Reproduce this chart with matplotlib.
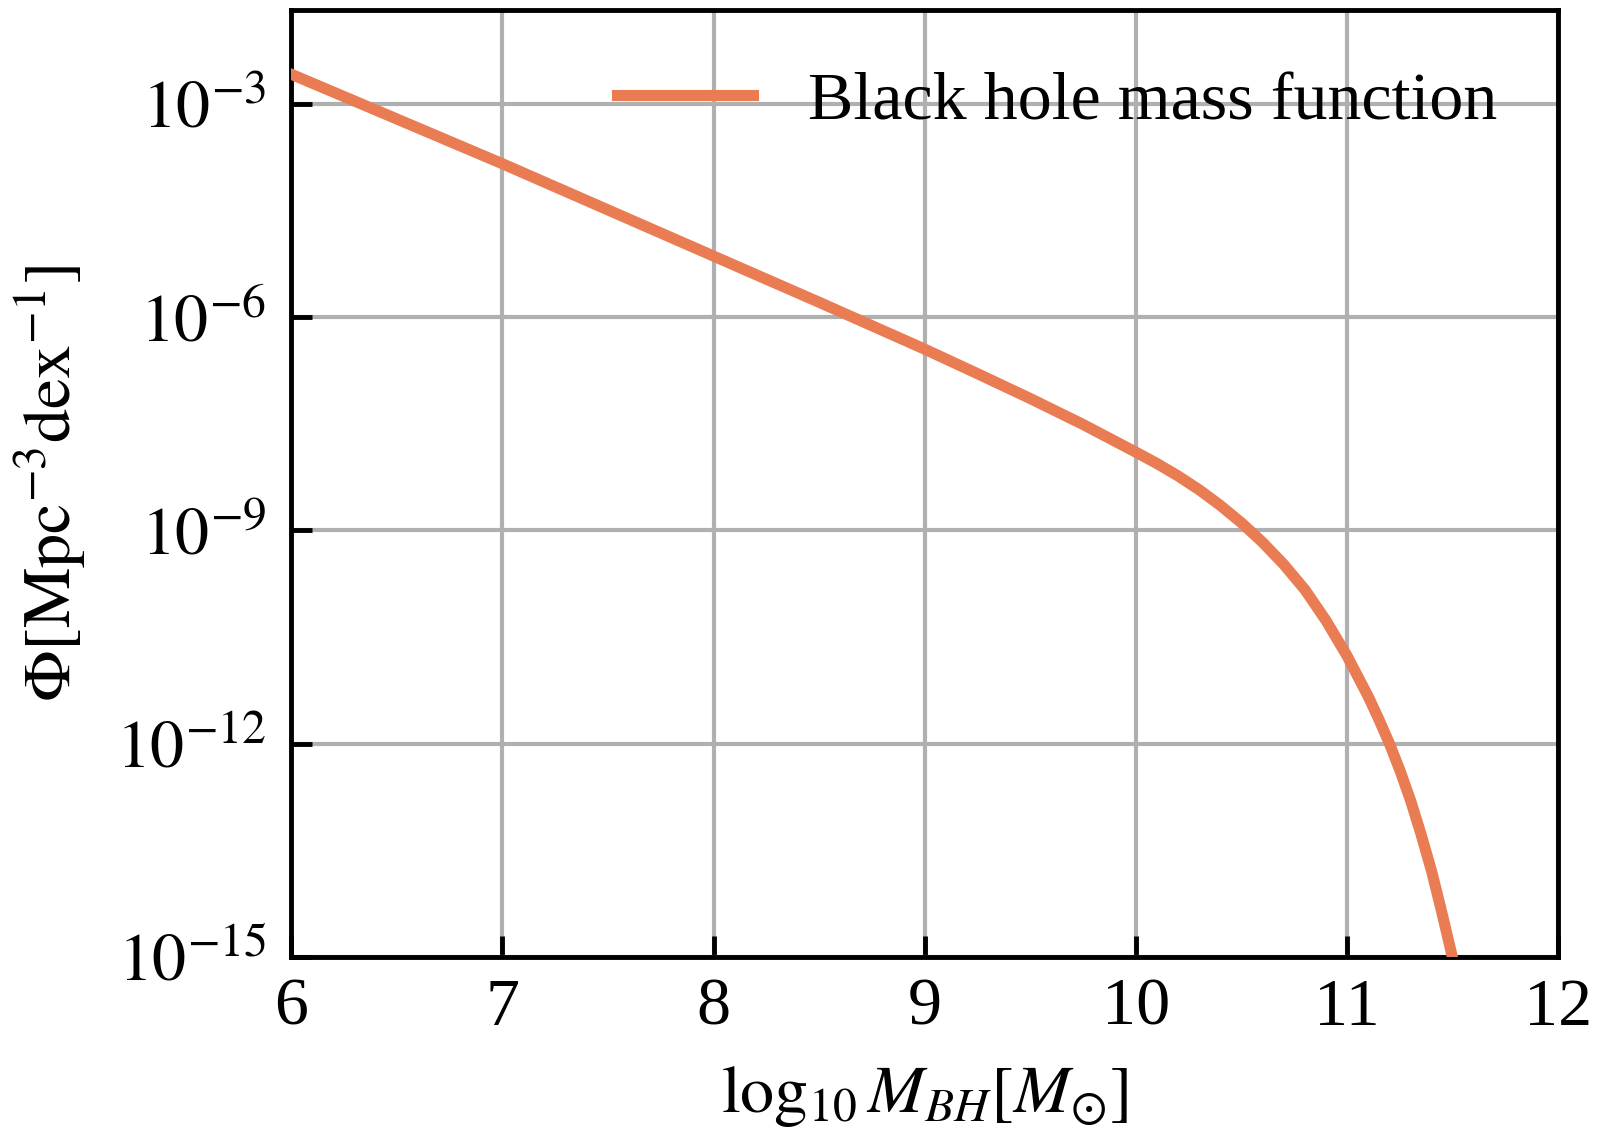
import numpy as np
import matplotlib
matplotlib.use('Agg')
import matplotlib.pyplot as plt
from matplotlib.ticker import FixedLocator, NullLocator, FuncFormatter

# values (log10 of Phi at given log10 M_BH)
log_mass = [6.0, 6.5, 7.0, 7.5, 8.0, 8.5, 9.0, 9.25, 9.5, 9.75, 10.0, 10.1,
            10.2, 10.3, 10.4, 10.5, 10.6, 10.7, 10.8, 10.9, 11.0, 11.1, 11.15,
            11.2, 11.25, 11.3, 11.35, 11.4, 11.45, 11.5]
log_phi = [-2.58, -3.21, -3.84, -4.49, -5.14, -5.79, -6.45, -6.795, -7.145,
           -7.51, -7.90, -8.06, -8.235, -8.43, -8.65, -8.895, -9.17, -9.48,
           -9.835, -10.27, -10.77, -11.34, -11.66, -12.00, -12.38, -12.80,
           -13.28, -13.80, -14.40, -15.03]
y_ticks = [1e-15, 1e-12, 1e-9, 1e-6, 1e-3]
x_ticks = [6, 7, 8, 9, 10, 11, 12]

plt.rcParams['font.family'] = 'serif'
plt.rcParams['font.serif'] = ['Liberation Serif', 'DejaVu Serif']
plt.rcParams['mathtext.fontset'] = 'stix'
plt.rcParams['font.size'] = 49

fig = plt.figure(figsize=(16, 11.39), dpi=100)
ax = fig.add_axes([0.182, 0.160, 0.792, 0.831])

ax.plot(log_mass, 10 ** np.array(log_phi), color='#e97c52', lw=8,
        label='Black hole mass function', zorder=3)
ax.set_yscale('log')
ax.set_xlim(6, 12)
ax.set_ylim(1e-15, 10 ** -1.68)

ax.xaxis.set_major_locator(FixedLocator(x_ticks))
ax.yaxis.set_major_locator(FixedLocator(y_ticks))
ax.yaxis.set_minor_locator(NullLocator())
ax.xaxis.set_minor_locator(NullLocator())
ax.yaxis.set_major_formatter(FuncFormatter(
    lambda v, pos: r'$\mathrm{10}^{\mathrm{%d}}$' % round(np.log10(v))))

ax.grid(True, color='#b0b0b0', lw=3, zorder=0)
ax.set_axisbelow(True)
for s in ax.spines.values():
    s.set_linewidth(3.5)
ax.tick_params(direction='in', length=15, width=3.5, labelsize=49)
ax.tick_params(axis='x', pad=15)
ax.tick_params(axis='y', pad=18)

ax.set_xlabel(r'$\log_{10} M_{BH} [M_{\odot}]$', fontsize=49, labelpad=18)
ax.set_ylabel(r'$\Phi [\mathrm{Mpc}^{-3} \mathrm{dex}^{-1}]$', fontsize=49, labelpad=20)

ax.legend(loc='upper right', frameon=False, fontsize=49)

fig.savefig('out.png', dpi=100)
